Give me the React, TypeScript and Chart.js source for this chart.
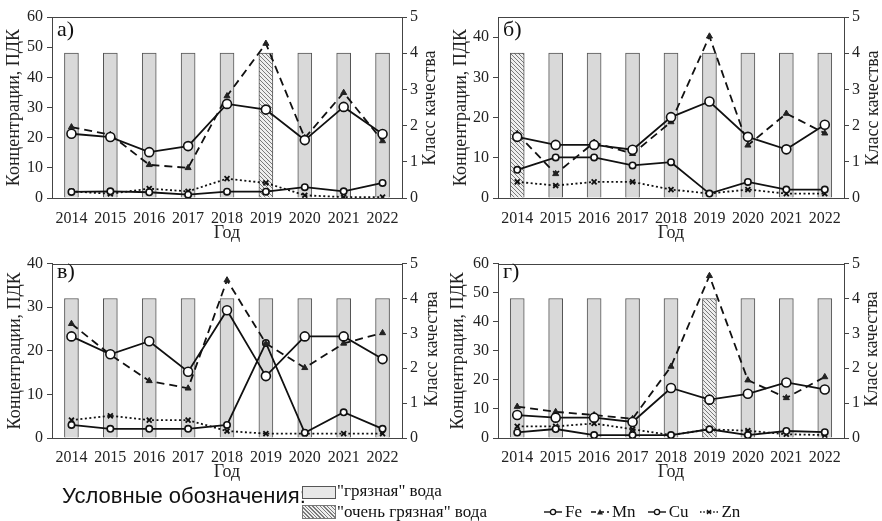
import React, { useEffect, useRef } from 'react';
import { Chart, registerables } from 'chart.js';
Chart.register(...registerables);

const SERIF = '"Liberation Serif", "Times New Roman", serif';
const SANS = '"Liberation Sans", Arial, sans-serif';

const years = ['2014', '2015', '2016', '2017', '2018', '2019', '2020', '2021', '2022'];

// а)
const feA = [21.3, 20.2, 15.2, 17.2, 31.2, 29.3, 19.2, 30.2, 21.2];
const mnA = [23.5, 21, 11, 10, 33.8, 51.2, 19.9, 34.9, 18.9];
const cuA = [2, 2.2, 1.9, 1.1, 2.1, 2.1, 3.6, 2.2, 5];
const znA = [2.2, 1.4, 3.1, 2.2, 6.4, 5, 0.9, 0.3, 0.3];
const classA = [4, 4, 4, 4, 4, 4, 4, 4, 4];
const waterA = ['г', 'г', 'г', 'г', 'г', 'о', 'г', 'г', 'г'];

// б)
const feB = [15.2, 13.2, 13.2, 12, 20.1, 24, 15.2, 12.1, 18.2];
const mnB = [16, 6, 13.8, 11, 18.9, 40.2, 13.1, 21, 16.1];
const cuB = [7, 10.1, 10.1, 8.1, 8.9, 1.1, 4, 2.1, 2.1];
const znB = [4, 3.1, 4, 4, 2.1, 1.1, 2.1, 1.1, 1.1];
const classB = [4, 4, 4, 4, 4, 4, 4, 4, 4];
const waterB = ['о', 'г', 'г', 'г', 'г', 'г', 'г', 'г', 'г'];

// в)
const feC = [23.3, 19.2, 22.2, 15.2, 29.3, 14.2, 23.3, 23.3, 18.1];
const mnC = [26.2, 19.1, 13.1, 11.4, 36.2, 21.7, 16.1, 21.7, 24.1];
const cuC = [3, 2.1, 2.1, 2.1, 3, 21.8, 1.2, 5.9, 2.1];
const znC = [4.1, 5.1, 4.1, 4.1, 1.6, 1, 1, 1, 1];
const classC = [4, 4, 4, 4, 4, 4, 4, 4, 4];
const waterC = ['г', 'г', 'г', 'г', 'г', 'г', 'г', 'г', 'г'];

// г)
const feD = [7.9, 7, 7, 5.5, 17.2, 13.2, 15.2, 19.1, 16.7];
const mnD = [10.8, 9, 7.9, 6.6, 24.6, 55.8, 19.9, 13.8, 21];
const cuD = [1.9, 3.1, 1, 1, 1, 3, 1, 2.4, 2];
const znD = [4, 4, 5, 3, 1, 3, 2.5, 1.3, 1];
const classD = [4, 4, 4, 4, 4, 4, 4, 4, 4];
const waterD = ['г', 'г', 'г', 'г', 'г', 'о', 'г', 'г', 'г'];

const yMaxes = [60, 45, 40, 60];
const ySteps = [10, 5, 5, 10];
const panelLabels = ['а)', 'б)', 'в)', 'г)'];

const LINE = '#111';
const AXIS = '#444';
const BAR = '#d9d9d9';

function makeHatch(): CanvasPattern | string {
  const pc = document.createElement('canvas');
  pc.width = 4;
  pc.height = 4;
  const g = pc.getContext('2d');
  if (!g) return '#bbb';
  g.fillStyle = '#eeeeee';
  g.fillRect(0, 0, 4, 4);
  g.strokeStyle = '#7a7a7a';
  g.lineWidth = 1;
  for (const o of [-4, 0, 4]) {
    g.beginPath();
    g.moveTo(o, 0);
    g.lineTo(o + 4, 4);
    g.stroke();
  }
  const pat = g.createPattern(pc, 'repeat');
  return pat || '#bbb';
}

const framePlugin = {
  id: 'frameTop',
  beforeDatasetsDraw(chart: any) {
    const { ctx, chartArea } = chart;
    ctx.save();
    ctx.strokeStyle = AXIS;
    ctx.lineWidth = 1;
    ctx.beginPath();
    ctx.moveTo(chartArea.left, Math.round(chartArea.top) + 0.5);
    ctx.lineTo(chartArea.right, Math.round(chartArea.top) + 0.5);
    ctx.stroke();
    ctx.restore();
  },
};

type Geo = {
  left: number; top: number; w: number; h: number;
  padTop: number; leftW: number; rightW: number; xH: number;
  yTitlePad: number; xTitlePad: number; tickPad: number;
  rightTitleX: number; labelX: number; labelY: number;
};

const geos: Geo[] = [
  { left: 0, top: 0, w: 441, h: 250, padTop: 17, leftW: 52, rightW: 39, xH: 52, yTitlePad: 3, xTitlePad: 6, tickPad: 11, rightTitleX: 429, labelX: 57, labelY: 17 },
  { left: 441, top: 0, w: 441, h: 250, padTop: 17, leftW: 57, rightW: 38, xH: 52, yTitlePad: 9, xTitlePad: 6, tickPad: 11, rightTitleX: 872, labelX: 503, labelY: 17 },
  { left: 0, top: 250, w: 441, h: 235, padTop: 9, leftW: 52, rightW: 39, xH: 47, yTitlePad: 4, xTitlePad: 2, tickPad: 10, rightTitleX: 431, labelX: 57, labelY: 259 },
  { left: 441, top: 250, w: 441, h: 235, padTop: 9, leftW: 57, rightW: 38, xH: 47, yTitlePad: 6, xTitlePad: 2, tickPad: 10, rightTitleX: 871, labelX: 503, labelY: 259 },
];

const seriesSets = [
  { fe: feA, mn: mnA, cu: cuA, zn: znA, cls: classA, water: waterA },
  { fe: feB, mn: mnB, cu: cuB, zn: znB, cls: classB, water: waterB },
  { fe: feC, mn: mnC, cu: cuC, zn: znC, cls: classC, water: waterC },
  { fe: feD, mn: mnD, cu: cuD, zn: znD, cls: classD, water: waterD },
];

function Panel({ idx }: { idx: number }) {
  const ref = useRef<HTMLCanvasElement>(null);
  const g = geos[idx];
  useEffect(() => {
    const canvas = ref.current;
    if (!canvas) return;
    const s = seriesSets[idx];
    const hatch = makeHatch();
    const tickFont = { family: SERIF, size: 16 };
    const chart = new Chart(canvas, {
      type: 'bar',
      data: {
        labels: years,
        datasets: [
          {
            type: 'line', label: 'Fe', data: s.fe, yAxisID: 'y', order: 1,
            borderColor: LINE, borderWidth: 1.8, tension: 0,
            pointStyle: 'circle', pointRadius: 4.5, pointBackgroundColor: '#fff',
            pointBorderColor: LINE, pointBorderWidth: 1.6,
          },
          {
            type: 'line', label: 'Mn', data: s.mn, yAxisID: 'y', order: 2,
            borderColor: LINE, borderWidth: 1.8, borderDash: [8, 5], tension: 0,
            pointStyle: 'triangle', pointRadius: 3.5, pointBackgroundColor: '#222',
            pointBorderColor: '#222', pointBorderWidth: 1,
          },
          {
            type: 'line', label: 'Cu', data: s.cu, yAxisID: 'y', order: 3,
            borderColor: LINE, borderWidth: 1.8, tension: 0,
            pointStyle: 'circle', pointRadius: 3.2, pointBackgroundColor: '#fff',
            pointBorderColor: LINE, pointBorderWidth: 1.6,
          },
          {
            type: 'line', label: 'Zn', data: s.zn, yAxisID: 'y', order: 4,
            borderColor: LINE, borderWidth: 1.8, borderDash: [2, 2.5], tension: 0,
            pointStyle: 'crossRot', pointRadius: 3.5, pointBorderColor: LINE, pointBorderWidth: 1.8,
          },
          {
            type: 'bar', label: 'Класс качества', data: s.cls, yAxisID: 'y1', order: 10,
            backgroundColor: s.water.map((w) => (w === 'о' ? hatch : BAR)) as any,
            borderColor: '#555', borderWidth: 1, barThickness: 14,
          },
        ] as any,
      },
      options: {
        responsive: false,
        animation: false,
        devicePixelRatio: 1,
        layout: { padding: { top: g.padTop, left: 0, right: 0, bottom: 0 } },
        plugins: { legend: { display: false }, tooltip: { enabled: false } },
        scales: {
          x: {
            type: 'category',
            offset: true,
            grid: { display: false, drawTicks: false },
            border: { display: true, color: AXIS, width: 1 },
            ticks: { padding: g.tickPad, font: tickFont, color: '#222', maxRotation: 0, autoSkip: false },
            title: { display: true, text: 'Год', font: { family: SERIF, size: 18 }, color: '#222', padding: { top: 0, bottom: g.xTitlePad } },
            afterFit: (sc: any) => { sc.height = g.xH; },
          },
          y: {
            position: 'left',
            min: 0,
            max: yMaxes[idx],
            ticks: { stepSize: ySteps[idx], padding: 4, font: tickFont, color: '#222' },
            grid: { drawOnChartArea: false, drawTicks: true, tickLength: 5, color: AXIS },
            border: { display: true, color: AXIS, width: 1 },
            title: { display: true, text: 'Концентрации, ПДК', font: { family: SERIF, size: 18 }, color: '#222', padding: { top: g.yTitlePad, bottom: 0 } },
            afterFit: (sc: any) => { sc.width = g.leftW; },
          },
          y1: {
            position: 'right',
            min: 0,
            max: 5,
            ticks: { stepSize: 1, padding: 3, font: tickFont, color: '#222' },
            grid: { drawOnChartArea: false, drawTicks: true, tickLength: 5, color: AXIS },
            border: { display: true, color: AXIS, width: 1 },
            afterFit: (sc: any) => { sc.width = g.rightW; },
          },
        },
      } as any,
      plugins: [framePlugin],
    });
    return () => chart.destroy();
  }, [idx]);

  const plotTop = g.top + g.padTop;
  const plotBottom = g.top + g.h - g.xH;
  const midY = (plotTop + plotBottom) / 2;

  return (
    <>
      <canvas
        ref={ref}
        width={g.w}
        height={g.h}
        style={{ position: 'absolute', left: g.left, top: g.top, width: g.w, height: g.h }}
      />
      <div
        style={{
          position: 'absolute', left: g.rightTitleX - 100, top: midY - 11, width: 200, height: 22,
          lineHeight: '22px', textAlign: 'center', fontFamily: SERIF, fontSize: 18, color: '#222',
          transform: 'rotate(-90deg)', whiteSpace: 'nowrap',
        }}
      >
        Класс качества
      </div>
      <div
        style={{
          position: 'absolute', left: g.labelX, top: g.labelY, fontFamily: SERIF, fontSize: 22,
          lineHeight: '24px', color: '#111', whiteSpace: 'nowrap',
        }}
      >
        {panelLabels[idx]}
      </div>
    </>
  );
}

function LegendLine({ kind }: { kind: string }) {
  const dash = kind === 'Mn' ? '5,3' : kind === 'Zn' ? '1.5,1.8' : undefined;
  let marker: React.ReactNode = null;
  if (kind === 'Fe' || kind === 'Cu') marker = <circle cx={9} cy={6} r={2.6} fill="#fff" stroke="#111" strokeWidth={1.3} />;
  if (kind === 'Mn') marker = <polygon points="9,3 12,8.5 6,8.5" fill="#222" />;
  if (kind === 'Zn') marker = <g stroke="#111" strokeWidth={1.3}><line x1={7} y1={4} x2={11} y2={8} /><line x1={11} y1={4} x2={7} y2={8} /></g>;
  return (
    <svg width={18} height={12} style={{ display: 'inline-block', verticalAlign: 'middle' }}>
      <line x1={0} y1={6} x2={18} y2={6} stroke="#111" strokeWidth={1.4} strokeDasharray={dash} />
      {marker}
    </svg>
  );
}

export default function App() {
  const hatchCss = 'repeating-linear-gradient(45deg, #eeeeee 0px, #eeeeee 1.6px, #7a7a7a 1.6px, #7a7a7a 2.6px)';
  return (
    <div style={{ position: 'absolute', left: 0, top: 0, width: 882, height: 521, background: '#fff', overflow: 'hidden' }}>
      {[0, 1, 2, 3].map((i) => <Panel key={i} idx={i} />)}
      <div style={{ position: 'absolute', left: 62, top: 483, fontFamily: SANS, fontSize: 22, lineHeight: '26px', color: '#111', whiteSpace: 'nowrap' }}>
        Условные обозначения:
      </div>
      <div style={{ position: 'absolute', left: 302, top: 486, width: 32, height: 11, background: '#e8e8e8', border: '1px solid #555' }} />
      <div style={{ position: 'absolute', left: 337, top: 481, fontFamily: SERIF, fontSize: 17, lineHeight: '20px', color: '#111', whiteSpace: 'nowrap' }}>
        "грязная" вода
      </div>
      <div style={{ position: 'absolute', left: 302, top: 505, width: 32, height: 12, background: hatchCss, border: '1px solid #777' }} />
      <div style={{ position: 'absolute', left: 337, top: 502, fontFamily: SERIF, fontSize: 17, lineHeight: '20px', color: '#111', whiteSpace: 'nowrap' }}>
        "очень грязная" вода
      </div>
      <div style={{ position: 'absolute', left: 544, top: 502, fontFamily: SERIF, fontSize: 17, lineHeight: '20px', color: '#111', whiteSpace: 'nowrap', display: 'flex', alignItems: 'center' }}>
        <LegendLine kind="Fe" /><span style={{ marginLeft: 3, marginRight: 9 }}>Fe</span>
        <LegendLine kind="Mn" /><span style={{ marginLeft: 3, marginRight: 12 }}>Mn</span>
        <LegendLine kind="Cu" /><span style={{ marginLeft: 3, marginRight: 12 }}>Cu</span>
        <LegendLine kind="Zn" /><span style={{ marginLeft: 3 }}>Zn</span>
      </div>
    </div>
  );
}
